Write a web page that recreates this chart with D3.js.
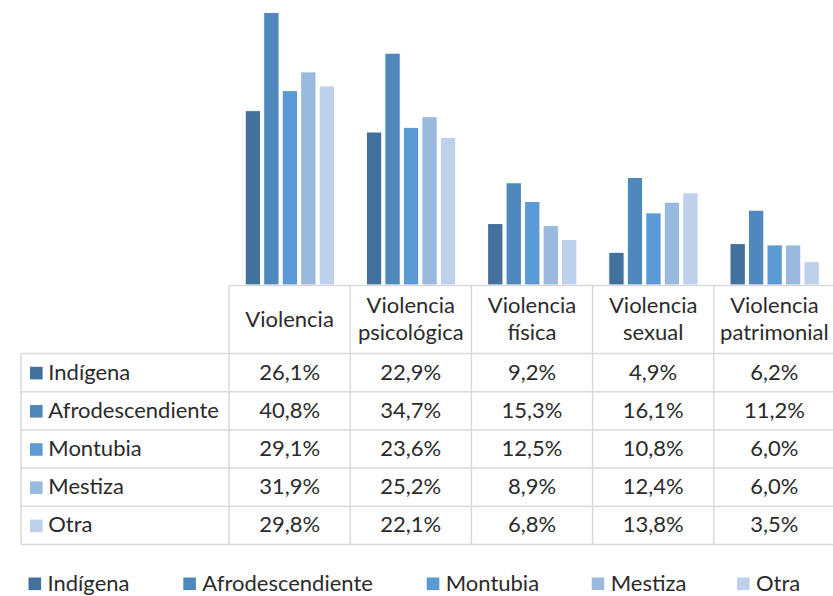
<!DOCTYPE html>
<html>
<head>
<meta charset="utf-8">
<script src="https://cdn.jsdelivr.net/npm/d3@7"></script>
<style>
  body { margin: 0; background: #fff; }
  svg text { font-family: Lato, "Open Sans", sans-serif; fill: #2b2b2b; }
</style>
</head>
<body>
<svg id="chart" width="833" height="596"></svg>
<script>
// categories (columns) and series (rows)
var categories = ["Violencia", "Violencia psicológica", "Violencia física", "Violencia sexual", "Violencia patrimonial"];
var categoryLines = [["Violencia"], ["Violencia", "psicológica"], ["Violencia", "física"], ["Violencia", "sexual"], ["Violencia", "patrimonial"]];
var series = ["Indígena", "Afrodescendiente", "Montubia", "Mestiza", "Otra"];
var colors = ["#41719c", "#4e88bc", "#5b9bd5", "#9ab9df", "#bdd1eb"];

var indigena = [26.1, 22.9, 9.2, 4.9, 6.2];
var afro = [40.8, 34.7, 15.3, 16.1, 11.2];
var montubia = [29.1, 23.6, 12.5, 10.8, 6.0];
var mestiza = [31.9, 25.2, 8.9, 12.4, 6.0];
var otra = [29.8, 22.1, 6.8, 13.8, 3.5];
var values = [indigena, afro, montubia, mestiza, otra];

var fmt = function(v) { return d3.format(".1f")(v).replace(".", ",") + "%"; };

var svg = d3.select("#chart");

var x0 = d3.scaleBand().domain(categories).range([229, 835]);
var x1 = d3.scaleBand().domain(series).range([16.2, 105.5]).paddingInner(0.17);
var y = d3.scaleLinear().domain([0, 42]).range([285, 4.4]);

// bars
var groups = svg.selectAll("g.grp")
    .data(categories)
    .enter().append("g")
    .attr("class", "grp")
    .attr("transform", function(d) { return "translate(" + x0(d) + ",0)"; });

groups.selectAll("rect")
    .data(function(d, i) { return series.map(function(s, j) { return {s: s, v: values[j][i], c: colors[j]}; }); })
    .enter().append("rect")
    .attr("x", function(d) { return x1(d.s); })
    .attr("width", x1.bandwidth())
    .attr("y", function(d) { return y(d.v); })
    .attr("height", function(d) { return y(0) - y(d.v); })
    .style("fill", function(d) { return d.c; })
    .style("stroke", "#fff")
    .style("stroke-width", 1);

// data table
var tableLeft = 21, headerTop = 285.5, headerBottom = 353.5, rowH = 38.2;
var gridColor = "#d9d9d9";
var grid = svg.append("g").style("stroke", gridColor).style("stroke-width", 1.5);

grid.append("line").attr("x1", 229).attr("x2", 833).attr("y1", headerTop).attr("y2", headerTop);
d3.range(series.length + 1).forEach(function(i) {
  var yy = headerBottom + i * rowH;
  grid.append("line").attr("x1", tableLeft).attr("x2", 833).attr("y1", yy).attr("y2", yy);
});
grid.append("line").attr("x1", tableLeft).attr("x2", tableLeft)
    .attr("y1", headerBottom).attr("y2", headerBottom + series.length * rowH);
categories.forEach(function(c) {
  grid.append("line").attr("x1", x0(c)).attr("x2", x0(c))
      .attr("y1", headerTop).attr("y2", headerBottom + series.length * rowH);
});

// header labels
categories.forEach(function(c, i) {
  var lines = categoryLines[i];
  var cx = x0(c) + x0.bandwidth() / 2;
  var t = svg.append("text").attr("text-anchor", "middle").style("font-size", "22px");
  lines.forEach(function(l, k) {
    var yy = lines.length === 1 ? 326.7 : 313.3 + k * 27;
    t.append("tspan").attr("x", cx).attr("y", yy).text(l);
  });
});

// row labels and cells
series.forEach(function(s, j) {
  var cy = headerBottom + j * rowH + rowH / 2;
  svg.append("rect").attr("x", 30).attr("y", cy - 5.8).attr("width", 12.6).attr("height", 12.6).style("fill", colors[j]);
  svg.append("text").attr("x", 48.3).attr("y", cy + 7).style("font-size", "22px").text(s);
  categories.forEach(function(c, i) {
    svg.append("text")
        .attr("x", x0(c) + x0.bandwidth() / 2)
        .attr("y", cy + 7)
        .attr("text-anchor", "middle")
        .style("font-size", "22px")
        .text(fmt(values[j][i]));
  });
});

// legend (nudged up a little so descenders are not cut at the bottom edge)
var legendX = [28.5, 183.3, 426.7, 591.7, 737];
var legend = svg.selectAll("g.leg")
    .data(series)
    .enter().append("g")
    .attr("class", "leg")
    .attr("transform", function(d, i) { return "translate(" + legendX[i] + ",577.5)"; });
legend.append("rect").attr("width", 12.6).attr("height", 12.6).style("fill", function(d, i) { return colors[i]; });
legend.append("text").attr("x", 19).attr("y", 13).style("font-size", "22px").text(function(d) { return d; });
</script>
</body>
</html>
